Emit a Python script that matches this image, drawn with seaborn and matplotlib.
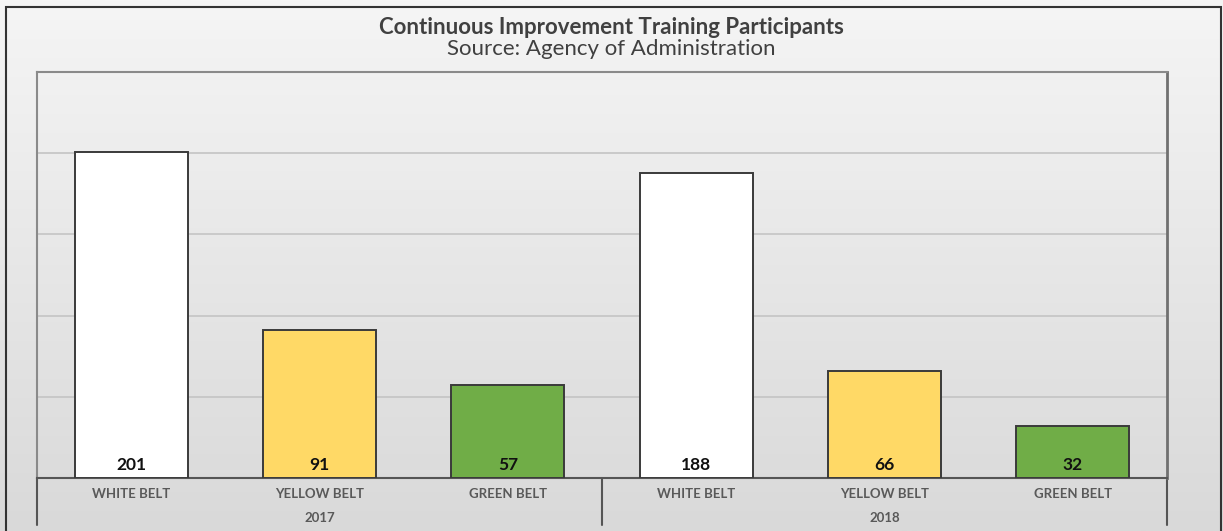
import numpy as np
import pandas as pd
import matplotlib
matplotlib.use("Agg")
import matplotlib.pyplot as plt
import seaborn as sns
from matplotlib.patches import Rectangle
from matplotlib.colors import LinearSegmentedColormap
import matplotlib.transforms as mtrans

# ---- data ----
years = ["2017", "2017", "2017", "2018", "2018", "2018"]
belts = ["WHITE BELT", "YELLOW BELT", "GREEN BELT", "WHITE BELT", "YELLOW BELT", "GREEN BELT"]
values = [201, 91, 57, 188, 66, 32]
colors = ["#FFFFFF", "#FFD966", "#70AD47", "#FFFFFF", "#FFD966", "#70AD47"]
year_groups = ["2017", "2018"]
title = "Continuous Improvement Training Participants"
subtitle = "Source: Agency of Administration"

df = pd.DataFrame({"key": [f"{y} {b}" for y, b in zip(years, belts)],
                   "belt": belts, "year": years, "value": values})

sns.set_theme(style="white")
plt.rcParams["font.family"] = ["Lato", "DejaVu Sans"]

W, H = 1223, 531
fig = plt.figure(figsize=(W / 100, H / 100), dpi=100)

# background gradient
bg = fig.add_axes([0, 0, 1, 1], zorder=-10)
grad = np.linspace(0, 1, 256).reshape(-1, 1)
cmap = LinearSegmentedColormap.from_list("bg", ["#f5f5f5", "#d9d9d9"])
bg.imshow(grad, aspect="auto", cmap=cmap, extent=[0, 1, 0, 1], origin="upper")
bg.set_xlim(0, 1); bg.set_ylim(0, 1)
bg.axis("off")
# outer frame
bg.add_patch(Rectangle((6 / W, -0.01), (1221 - 6) / W, 1 - 7 / H + 0.01,
                       fill=False, edgecolor="#333333", linewidth=1.5,
                       transform=bg.transAxes))

left, right, top, bottom = 37, 1167, 72, 478
ax = fig.add_axes([left / W, 1 - bottom / H, (right - left) / W, (bottom - top) / H])
ax.patch.set_alpha(0)

sns.barplot(data=df, x="key", y="value", hue="key", palette=colors,
            saturation=1, width=0.6, edgecolor="#3a3a3a", linewidth=1.4,
            legend=False, ax=ax, zorder=3)
ax.set_ylim(0, 250)
ax.set_xlim(-0.5, len(values) - 0.5)
ax.set_yticks([50, 100, 150, 200])
ax.yaxis.grid(True, color="#c4c4c4", linewidth=1.2, zorder=0)
ax.set_yticklabels([])
ax.tick_params(axis="y", length=0)
ax.set_xlabel(""); ax.set_ylabel("")

for side in ["left", "top"]:
    ax.spines[side].set_color("#8a8a8a"); ax.spines[side].set_linewidth(1.5)
ax.spines["right"].set_color("#707070"); ax.spines["right"].set_linewidth(2)
ax.spines["bottom"].set_color("#555555"); ax.spines["bottom"].set_linewidth(1.5)

# value labels
for i, v in enumerate(values):
    ax.annotate(str(v), (i, 0), xytext=(0, 3.5), textcoords="offset points",
                ha="center", va="bottom", fontsize=12.5, fontweight="bold",
                color="#111111", zorder=5)

ax.set_xticks(range(len(belts)))
ax.set_xticklabels(belts, fontsize=9.5, fontweight="bold", color="#595959")
ax.tick_params(axis="x", length=0, pad=7)

# group labels and separators
trans = mtrans.blended_transform_factory(ax.transData, ax.transAxes)
n_per = len(belts) // len(year_groups)
for g, yr in enumerate(year_groups):
    center = g * n_per + (n_per - 1) / 2
    ax.text(center, -0.098, yr, transform=trans, ha="center", va="center",
            fontsize=9.5, fontweight="bold", color="#595959")
for g in range(len(year_groups) + 1):
    xs = g * n_per - 0.5
    ax.plot([xs, xs], [0, -0.115], transform=trans, color="#555555",
            linewidth=1.5, clip_on=False)

fig.text(0.5, 1 - 27 / H, title, ha="center", va="center", fontsize=16,
         fontweight="bold", color="#404040")
fig.text(0.5, 1 - 49 / H, subtitle, ha="center", va="center", fontsize=16,
         color="#404040")

fig.savefig("out.png", dpi=100)
